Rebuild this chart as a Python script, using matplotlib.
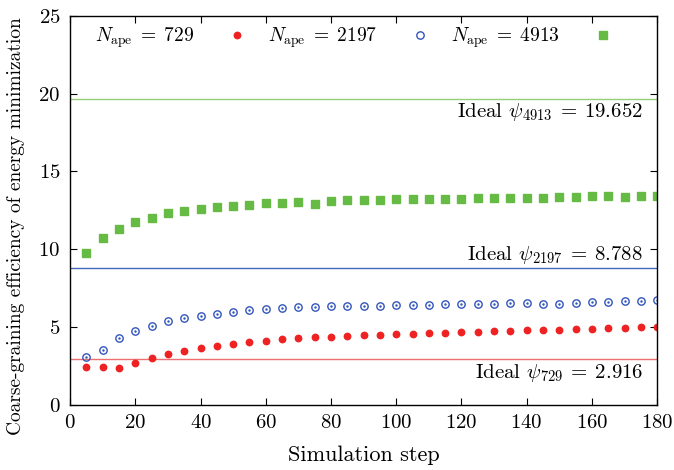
import matplotlib
matplotlib.use('Agg')
import matplotlib.pyplot as plt

plt.rcParams['font.family'] = 'cmr10'
plt.rcParams['mathtext.fontset'] = 'cm'
plt.rcParams['axes.formatter.use_mathtext'] = True
plt.rcParams['axes.unicode_minus'] = False

steps = list(range(5, 181, 5))

eff_729 = [2.40, 2.40, 2.35, 2.69, 3.00, 3.25, 3.45, 3.62, 3.75, 3.90,
           4.01, 4.11, 4.20, 4.26, 4.33, 4.37, 4.41, 4.46, 4.50, 4.54,
           4.56, 4.61, 4.61, 4.65, 4.69, 4.74, 4.76, 4.78, 4.80, 4.82,
           4.85, 4.88, 4.93, 4.95, 4.97, 4.99]
eff_2197 = [3.08, 3.53, 4.26, 4.76, 5.08, 5.38, 5.59, 5.72, 5.85, 5.98,
            6.09, 6.17, 6.24, 6.28, 6.30, 6.33, 6.35, 6.35, 6.37, 6.39,
            6.41, 6.43, 6.46, 6.46, 6.48, 6.49, 6.52, 6.54, 6.46, 6.49,
            6.54, 6.58, 6.62, 6.65, 6.69, 6.71]
eff_4913 = [9.74, 10.71, 11.29, 11.74, 12.00, 12.36, 12.45, 12.58, 12.71, 12.77,
            12.83, 12.96, 12.96, 13.03, 12.90, 13.09, 13.16, 13.16, 13.16, 13.22,
            13.22, 13.22, 13.22, 13.22, 13.29, 13.29, 13.29, 13.29, 13.29, 13.35,
            13.35, 13.41, 13.41, 13.35, 13.41, 13.41]

ideal = {729: 2.916, 2197: 8.788, 4913: 19.652}

red = '#ee2222'
blue = '#3355bb'
green = '#66bb44'

fig = plt.figure(figsize=(6.74, 4.70), dpi=100)
ax = fig.add_axes([0.104, 0.139, 0.871, 0.827])

# ideal reference lines
ax.axhline(ideal[4913], color='#99cc77', lw=1.0, zorder=1)
ax.axhline(ideal[2197], color='#4466bb', lw=1.0, zorder=1)
ax.axhline(ideal[729], color='#ee6f6f', lw=1.0, zorder=1)

ax.plot(steps, eff_729, 'o', color=red, ms=4.6, mec=red, ls='none',
        label=r'$N_{\mathrm{ape}} \;=\; 729$')
ax.plot(steps, eff_2197, 'o', mfc='none', mec=blue, mew=1.0, ms=5.3, ls='none',
        label=r'$N_{\mathrm{ape}} \;=\; 2197$')
ax.plot(steps, eff_2197, '.', color=blue, ms=1.5, ls='none')
ax.plot(steps, eff_4913, 's', color=green, ms=5.4, ls='none',
        label=r'$N_{\mathrm{ape}} \;=\; 4913$')

fs = 15
ax.text(175.7, ideal[4913] - 0.15, r'Ideal $\psi_{4913} \:=\: 19.652$', ha='right', va='top', fontsize=fs)
ax.text(175.7, ideal[2197] + 0.12, r'Ideal $\psi_{2197} \:=\: 8.788$', ha='right', va='bottom', fontsize=fs)
ax.text(175.7, ideal[729] - 0.15, r'Ideal $\psi_{729} \:=\: 2.916$', ha='right', va='top', fontsize=fs)

ax.set_xlim(0, 180)
ax.set_ylim(0, 25)
ax.set_xticks(range(0, 181, 20))
ax.set_yticks(range(0, 26, 5))
ax.tick_params(direction='in', top=True, right=True, length=5, width=0.8,
               labelsize=fs, pad=7)
ax.set_xlabel('Simulation step', fontsize=16)
ax.xaxis.set_label_coords(0.5, -0.105)
ax.set_ylabel('Coarse-graining efficiency of energy minimization', fontsize=14)
ax.yaxis.set_label_coords(-0.077, 0.46)
for s in ax.spines.values():
    s.set_linewidth(1.0)

ax.legend(loc='upper left', bbox_to_anchor=(0.0426, 0.975), ncol=3, frameon=False,
          markerfirst=False, fontsize=14, handlelength=1.0, handletextpad=1.7,
          columnspacing=1.1, borderaxespad=0.0, borderpad=0.0)

fig.savefig('out.png', dpi=100)
